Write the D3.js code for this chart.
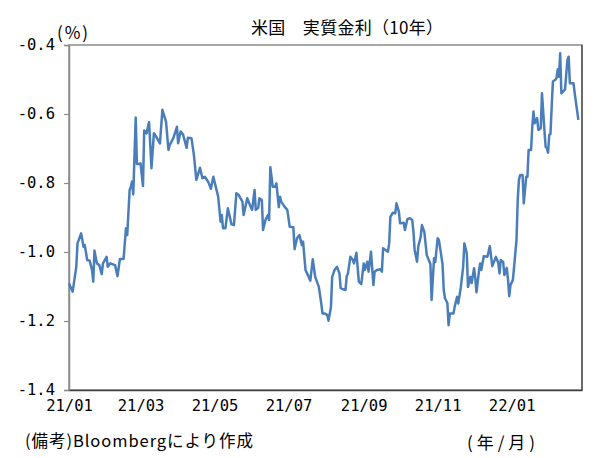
<!DOCTYPE html>
<html>
<head>
<meta charset="utf-8">
<script src="https://cdn.jsdelivr.net/npm/d3@7"></script>
<style>
  body { margin: 0; background: #fff; }
  text { font-family: "Noto Sans CJK JP", sans-serif; fill: #000; }
  .num { font-family: "DejaVu Sans Mono", monospace; }
</style>
</head>
<body>
<script>
const title = "米国\u3000実質金利（10年）";
const yUnit = "(%)";
const xUnit = "(年/月)";
const note = "(備考)Bloombergにより作成";

const yTicks = [-0.4, -0.6, -0.8, -1.0, -1.2, -1.4];
const xTicks = ["2021-01-01", "2021-03-01", "2021-05-01", "2021-07-01", "2021-09-01", "2021-11-01", "2022-01-01"];

const dates = [
  "2021-01-01","2021-01-04","2021-01-07","2021-01-08","2021-01-11","2021-01-13","2021-01-14","2021-01-16","2021-01-18","2021-01-20",
  "2021-01-21","2021-01-22","2021-01-24","2021-01-26","2021-01-28","2021-01-29","2021-02-01","2021-02-02","2021-02-04","2021-02-08",
  "2021-02-10","2021-02-12","2021-02-15","2021-02-17","2021-02-18","2021-02-20","2021-02-21","2021-02-22","2021-02-23","2021-02-25",
  "2021-02-26","2021-02-28","2021-03-01","2021-03-03","2021-03-04","2021-03-06","2021-03-08","2021-03-10","2021-03-12","2021-03-14",
  "2021-03-17","2021-03-19","2021-03-22","2021-03-24","2021-03-25","2021-03-28","2021-03-31","2021-04-01","2021-04-03","2021-04-05",
  "2021-04-08","2021-04-09","2021-04-12","2021-04-14","2021-04-16","2021-04-19","2021-04-21","2021-04-23","2021-04-26","2021-04-28",
  "2021-04-30","2021-05-03","2021-05-04","2021-05-06","2021-05-07","2021-05-08","2021-05-10","2021-05-12","2021-05-15","2021-05-17",
  "2021-05-19","2021-05-21","2021-05-24","2021-05-25","2021-05-28","2021-05-30","2021-06-01","2021-06-03","2021-06-04","2021-06-06",
  "2021-06-07","2021-06-09","2021-06-10","2021-06-12","2021-06-14","2021-06-15","2021-06-16","2021-06-18","2021-06-20","2021-06-21",
  "2021-06-23","2021-06-24","2021-06-25","2021-06-28","2021-06-30","2021-07-02","2021-07-05","2021-07-06","2021-07-08","2021-07-10",
  "2021-07-12","2021-07-13","2021-07-15","2021-07-17","2021-07-19","2021-07-21","2021-07-23","2021-07-26","2021-07-28","2021-07-29",
  "2021-07-31","2021-08-02","2021-08-03","2021-08-05","2021-08-06","2021-08-08","2021-08-10","2021-08-12","2021-08-13","2021-08-15",
  "2021-08-17","2021-08-18","2021-08-19","2021-08-21","2021-08-23","2021-08-24","2021-08-26","2021-08-28","2021-08-30","2021-09-01",
  "2021-09-02","2021-09-04","2021-09-05","2021-09-07","2021-09-09","2021-09-10","2021-09-12","2021-09-15","2021-09-16","2021-09-17",
  "2021-09-19","2021-09-21","2021-09-22","2021-09-23","2021-09-25","2021-09-27","2021-09-28","2021-09-30","2021-10-01","2021-10-04",
  "2021-10-05","2021-10-07","2021-10-09","2021-10-11","2021-10-12","2021-10-13","2021-10-15","2021-10-16","2021-10-18","2021-10-19",
  "2021-10-21","2021-10-23","2021-10-26","2021-10-27","2021-10-29","2021-10-30","2021-11-01","2021-11-02","2021-11-05","2021-11-06",
  "2021-11-07","2021-11-09","2021-11-10","2021-11-11","2021-11-14","2021-11-15","2021-11-17","2021-11-18","2021-11-20","2021-11-22",
  "2021-11-23","2021-11-25","2021-11-26","2021-11-28","2021-11-29","2021-12-01","2021-12-02","2021-12-03","2021-12-05","2021-12-06",
  "2021-12-07","2021-12-09","2021-12-12","2021-12-14","2021-12-16","2021-12-18","2021-12-19","2021-12-21","2021-12-22","2021-12-23",
  "2021-12-25","2021-12-26","2021-12-28","2021-12-29","2021-12-30","2021-12-31","2022-01-02","2022-01-03","2022-01-05","2022-01-06",
  "2022-01-07","2022-01-08","2022-01-10","2022-01-11","2022-01-13","2022-01-14","2022-01-15","2022-01-17","2022-01-18","2022-01-19",
  "2022-01-20","2022-01-22","2022-01-23","2022-01-25","2022-01-26","2022-01-28","2022-01-29","2022-01-30","2022-01-31","2022-02-01",
  "2022-02-02","2022-02-03","2022-02-04","2022-02-06","2022-02-07","2022-02-08","2022-02-09","2022-02-10","2022-02-11","2022-02-13",
  "2022-02-14","2022-02-16","2022-02-17","2022-02-18","2022-02-21","2022-02-22","2022-02-25"
];

const values = [
  -1.091,-1.115,-1.043,-0.975,-0.946,-0.985,-0.980,-1.023,-1.025,-1.052,
  -1.086,-0.996,-1.033,-1.038,-1.064,-1.033,-1.014,-1.043,-1.033,-1.038,
  -1.070,-1.020,-1.020,-0.931,-0.951,-0.820,-0.811,-0.796,-0.833,-0.610,
  -0.745,-0.745,-0.743,-0.809,-0.648,-0.656,-0.623,-0.757,-0.656,-0.666,
  -0.685,-0.588,-0.622,-0.704,-0.690,-0.670,-0.637,-0.685,-0.651,-0.659,
  -0.698,-0.669,-0.670,-0.719,-0.791,-0.756,-0.786,-0.782,-0.798,-0.817,
  -0.782,-0.825,-0.840,-0.912,-0.893,-0.931,-0.931,-0.873,-0.920,-0.922,
  -0.830,-0.835,-0.854,-0.893,-0.844,-0.862,-0.878,-0.820,-0.878,-0.872,
  -0.844,-0.849,-0.936,-0.907,-0.893,-0.907,-0.754,-0.811,-0.811,-0.801,
  -0.870,-0.840,-0.854,-0.870,-0.878,-0.927,-0.928,-0.992,-0.960,-0.951,
  -0.980,-0.970,-1.052,-1.067,-1.083,-1.021,-1.072,-1.101,-1.149,-1.178,
  -1.178,-1.183,-1.199,-1.159,-1.072,-1.052,-1.043,-1.062,-1.105,-1.108,
  -1.110,-1.070,-1.062,-1.014,-1.023,-1.033,-1.002,-1.086,-1.093,-1.033,
  -1.052,-1.028,-1.057,-0.999,-1.096,-1.057,-1.052,-1.050,-1.057,-0.989,
  -0.994,-0.999,-0.975,-0.898,-0.886,-0.888,-0.859,-0.883,-0.917,-0.915,
  -0.936,-0.905,-0.902,-0.907,-0.941,-0.994,-1.028,-0.984,-0.956,-0.922,
  -0.942,-1.009,-1.035,-1.139,-1.018,-1.029,-0.960,-0.965,-1.035,-1.110,
  -1.134,-1.148,-1.212,-1.178,-1.178,-1.159,-1.130,-1.149,-1.104,-1.043,
  -0.975,-1.004,-1.101,-1.072,-1.090,-1.047,-1.075,-1.117,-1.057,-1.033,
  -1.052,-1.012,-1.014,-0.983,-1.041,-1.023,-1.014,-1.032,-1.062,-1.023,
  -1.029,-1.067,-1.046,-1.081,-1.128,-1.096,-1.081,-1.043,-0.965,-0.849,
  -0.791,-0.777,-0.777,-0.859,-0.782,-0.782,-0.704,-0.704,-0.637,-0.593,
  -0.627,-0.612,-0.646,-0.641,-0.540,-0.646,-0.695,-0.699,-0.712,-0.661,
  -0.658,-0.579,-0.506,-0.501,-0.496,-0.470,-0.492,-0.424,-0.540,-0.533,
  -0.528,-0.443,-0.434,-0.511,-0.511,-0.540,-0.617
];

const width = 607, height = 458;
const margin = {top: 45, right: 25, bottom: 68, left: 69};
const parse = d3.timeParse("%Y-%m-%d");
const fmt = d3.timeFormat("%y/%m");

const svg = d3.select('body').append('svg')
   .attr("width", width)
   .attr("height", height);

const x = d3.scaleTime()
    .domain([parse("2021-01-01"), parse("2022-02-28")])
    .range([margin.left, width - margin.right]);

const y = d3.scaleLinear()
    .domain([-1.4, -0.4])
    .range([height - margin.bottom, margin.top]);

const data = dates.map((d, i) => ({date: parse(d), value: values[i]}));

// plot frame
svg.append('rect')
    .attr('x', x.range()[0])
    .attr('y', y(-0.4))
    .attr('width', x.range()[1] - x.range()[0])
    .attr('height', y(-1.4) - y(-0.4))
    .attr('fill', 'none')
    .attr('stroke', '#8c8c8c')
    .attr('stroke-width', 1.5);

svg.append('line')
    .attr('x1', x.range()[1]).attr('x2', x.range()[1])
    .attr('y1', y(-0.4)).attr('y2', y(-1.4))
    .attr('stroke', '#555').attr('stroke-width', 1.5);

const yAxis = svg.append('g')
    .attr('transform', `translate(${margin.left},0)`)
    .call(d3.axisLeft(y).tickValues(yTicks).tickSize(5).tickPadding(9).tickFormat(d3.format(".1f")));
yAxis.select('.domain').attr('stroke', '#8c8c8c').attr('stroke-width', 1.5);
yAxis.selectAll('.tick line').attr('stroke', '#8c8c8c').attr('stroke-width', 1.2);
yAxis.selectAll('text')
    .attr('class', 'num')
    .style('font-size', '15.5px')
    .text(d => d3.format(".1f")(d).replace("−", "-"));

const xAxis = svg.append('g')
    .attr('transform', `translate(0,${height - margin.bottom})`)
    .call(d3.axisBottom(x).tickValues(xTicks.map(parse)).tickSize(0).tickPadding(10).tickFormat(fmt));
xAxis.select('.domain').attr('stroke', '#404040').attr('stroke-width', 1.5);
xAxis.selectAll('text')
    .attr('class', 'num')
    .style('font-size', '15.5px');

const line = d3.line()
    .x(d => x(d.date))
    .y(d => y(d.value));

svg.append('path')
    .datum(data)
    .attr('d', line)
    .attr('fill', 'none')
    .attr('stroke', '#4a7ebb')
    .attr('stroke-width', 2.5)
    .attr('stroke-linejoin', 'round');

svg.append('text')
    .attr('x', 347).attr('y', 34)
    .attr('text-anchor', 'middle')
    .attr('textLength', 192)
    .style('font-size', '17px')
    .text(title);

svg.append('text')
    .attr('x', 57).attr('y', 39)
    .attr('textLength', 31)
    .style('font-size', '17px')
    .text(yUnit);

svg.append('text')
    .attr('x', 467).attr('y', 449)
    .attr('textLength', 68)
    .style('font-size', '17px')
    .text(xUnit);

svg.append('text')
    .attr('x', 25).attr('y', 447)
    .attr('textLength', 228)
    .style('font-size', '16.5px')
    .text(note);
</script>
</body>
</html>
